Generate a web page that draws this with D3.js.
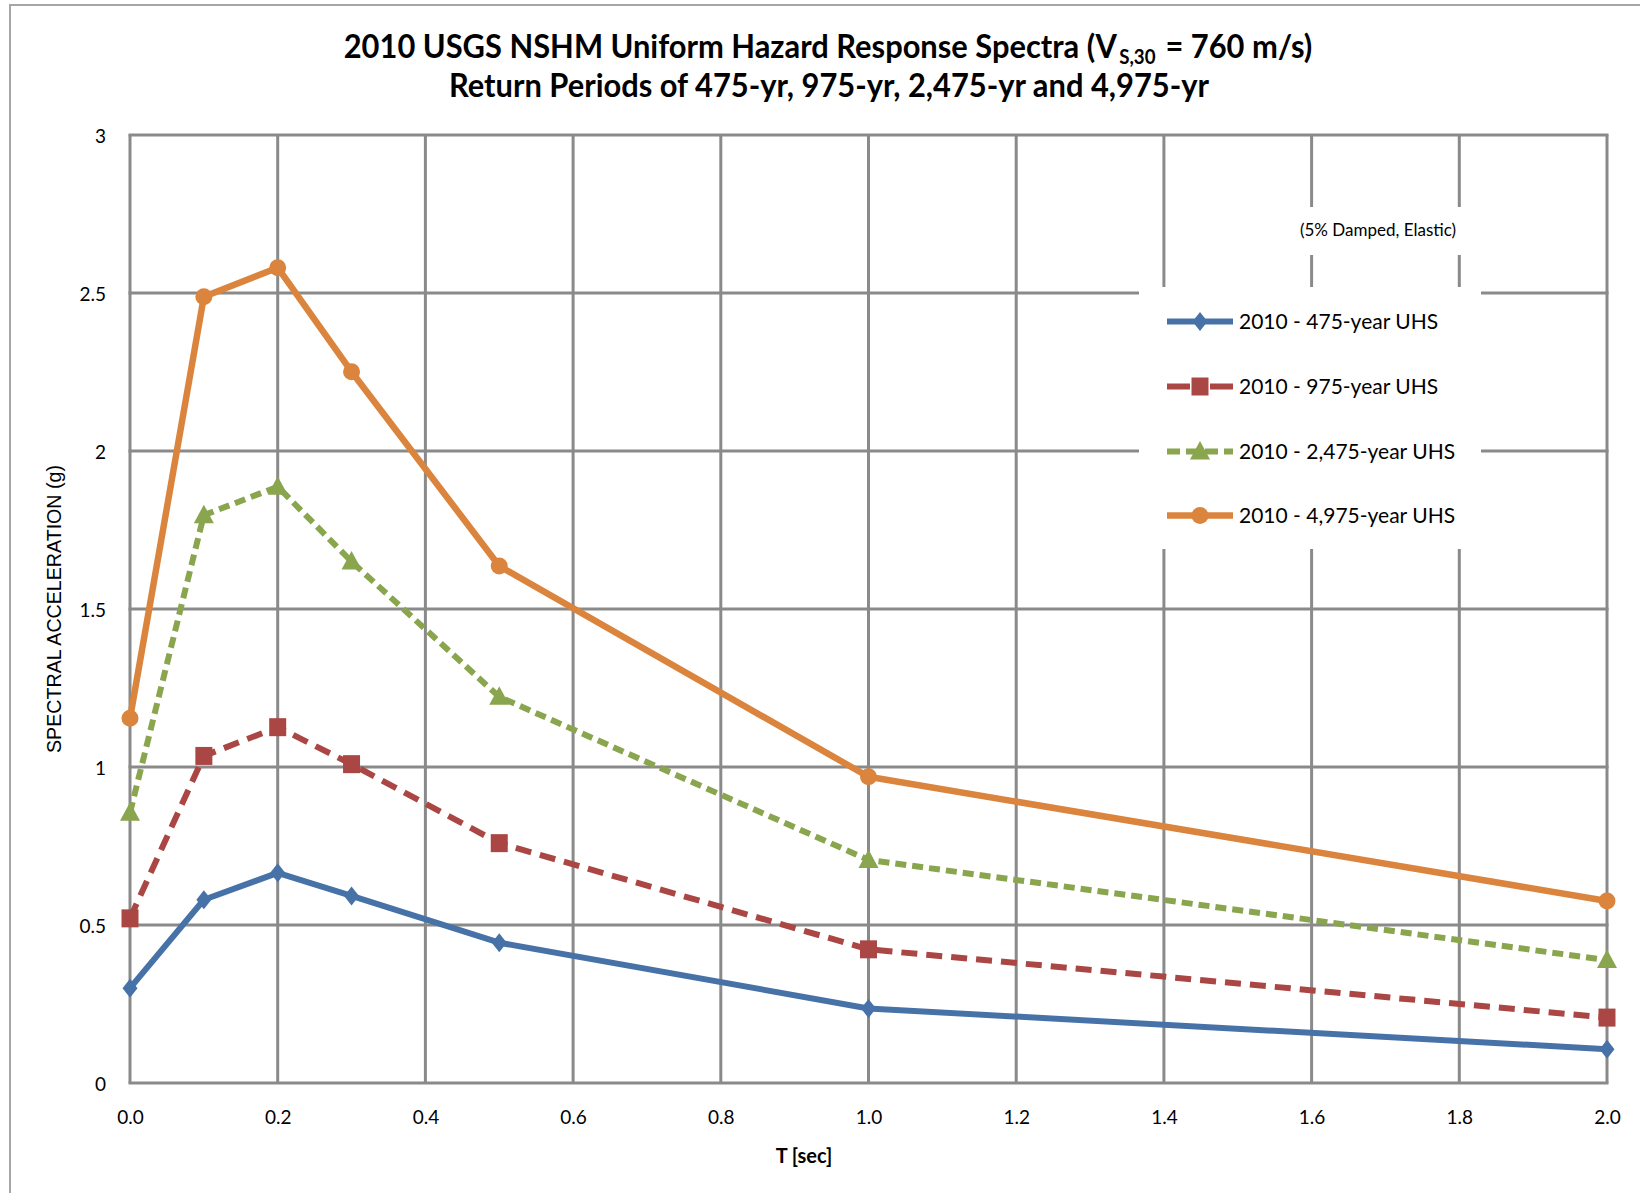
<!DOCTYPE html>
<html>
<head>
<meta charset="utf-8">
<script src="https://cdn.jsdelivr.net/npm/d3@7"></script>
<style>
  html, body { margin: 0; padding: 0; background: #ffffff; }
  svg { display: block; }
  text { white-space: pre; }
</style>
</head>
<body>
<svg id="chart" width="1640" height="1193"></svg>
<script>
// ---------- data ----------
const periods = [0.0, 0.1, 0.2, 0.3, 0.5, 1.0, 2.0];
const uhs475  = [0.300, 0.580, 0.665, 0.592, 0.444, 0.236, 0.107];
const uhs975  = [0.521, 1.035, 1.126, 1.009, 0.759, 0.423, 0.207];
const uhs2475 = [0.855, 1.797, 1.887, 1.650, 1.222, 0.706, 0.389];
const uhs4975 = [1.154, 2.488, 2.580, 2.251, 1.636, 0.969, 0.576];
const seriesNames = ["2010 - 475-year UHS", "2010 - 975-year UHS", "2010 - 2,475-year UHS", "2010 - 4,975-year UHS"];
const xTickValues = [0.0, 0.2, 0.4, 0.6, 0.8, 1.0, 1.2, 1.4, 1.6, 1.8, 2.0];
const yTickValues = [0, 0.5, 1, 1.5, 2, 2.5, 3];
const titleLine1a = "2010 USGS NSHM Uniform Hazard Response Spectra (V";
const titleSub = "S,30";
const titleLine1b = "\u00A0= 760 m/s)";
const titleLine2 = "Return Periods of 475-yr, 975-yr, 2,475-yr and 4,975-yr";
const xTitle = "T [sec]";
const yTitle = "SPECTRAL ACCELERATION (g)";
const noteText = "(5% Damped, Elastic)";

// ---------- styles ----------
const seriesValues = [uhs475, uhs975, uhs2475, uhs4975];
const colors = ["#4672A8", "#AA4643", "#89A54E", "#DB843D"];
const dashes = [null, "16,9", "11,6", null];
const legendDashes = [null, "23,20,23", "13,6", null];
const widths = [6, 6, 6, 6.5];
const markers = ["diamond", "square", "triangle", "circle"];
const FONT = "Lato, Carlito, 'Open Sans', sans-serif";
const GRID = "#8a8a8a";

const svg = d3.select("#chart");
const plot = { left: 130, right: 1607, top: 135, bottom: 1083 };

// outer frame
svg.append("rect").attr("x", 10).attr("y", 5).attr("width", 1700).attr("height", 1300)
  .attr("fill", "#fff").attr("stroke", "#a6a6a6").attr("stroke-width", 2);

const x = d3.scaleLinear().domain([0, 2]).range([plot.left, plot.right]);
const y = d3.scaleLinear().domain([0, 3]).range([plot.bottom, plot.top]);

// grid
const g = svg.append("g");
g.selectAll("line.vg").data(xTickValues).join("line")
  .attr("x1", d => x(d)).attr("x2", d => x(d))
  .attr("y1", plot.top).attr("y2", plot.bottom)
  .attr("stroke", GRID).attr("stroke-width", 3);
g.selectAll("line.hg").data(yTickValues).join("line")
  .attr("x1", plot.left - 1.5).attr("x2", plot.right + 1.5)
  .attr("y1", d => y(d)).attr("y2", d => y(d))
  .attr("stroke", GRID).attr("stroke-width", 3);

// axes labels via d3 axes (no domain/tick lines)
const xAxis = d3.axisBottom(x).tickValues(xTickValues).tickFormat(d3.format(".1f")).tickSize(0).tickPadding(28);
const yAxis = d3.axisLeft(y).tickValues(yTickValues).tickFormat(d3.format("")).tickSize(0).tickPadding(24);
const gx = svg.append("g").attr("transform", `translate(0,${plot.bottom})`).call(xAxis);
const gy = svg.append("g").attr("transform", `translate(${plot.left},0)`).call(yAxis);
[gx, gy].forEach(a => {
  a.select(".domain").remove();
  a.selectAll("text").attr("font-family", FONT).attr("font-size", 19).attr("fill", "#000");
});
gy.selectAll("text").attr("dy", "0.38em");

// white boxes (legend + note) hiding gridlines
svg.append("rect").attr("x", 1139).attr("y", 287).attr("width", 342).attr("height", 262).attr("fill", "#fff");
svg.append("rect").attr("x", 1284).attr("y", 207).attr("width", 190).attr("height", 48).attr("fill", "#fff");

// series lines
const line = d3.line().x(d => x(d[0])).y(d => y(d[1]));
function markerPath(type, cx, cy) {
  if (type === "diamond") return `M${cx},${cy-9.5}L${cx+7.5},${cy}L${cx},${cy+9.5}L${cx-7.5},${cy}Z`;
  if (type === "square") return `M${cx-8.5},${cy-9}H${cx+8.5}V${cy+9}H${cx-8.5}Z`;
  if (type === "triangle") return `M${cx},${cy-10.5}L${cx+10},${cy+8}L${cx-10},${cy+8}Z`;
  return `M${cx-8.5},${cy}A8.5,8.5 0 1,0 ${cx+8.5},${cy}A8.5,8.5 0 1,0 ${cx-8.5},${cy}Z`;
}
seriesValues.forEach((vals, i) => {
  const pts = periods.map((p, j) => [p, vals[j]]);
  svg.append("path").attr("d", line(pts)).attr("fill", "none")
    .attr("stroke", colors[i]).attr("stroke-width", widths[i])
    .attr("stroke-dasharray", dashes[i]).attr("stroke-linejoin", "round")
    .attr("stroke-linecap", dashes[i] ? "butt" : "round");
  svg.append("g").selectAll("path").data(pts).join("path")
    .attr("d", d => markerPath(markers[i], x(d[0]), y(d[1])))
    .attr("fill", colors[i]);
});

// legend
const legY = [321.5, 386.5, 451.5, 515.5];
seriesNames.forEach((name, i) => {
  const ly = legY[i];
  svg.append("line").attr("x1", 1167).attr("x2", 1233).attr("y1", ly).attr("y2", ly)
    .attr("stroke", colors[i]).attr("stroke-width", widths[i])
    .attr("stroke-dasharray", legendDashes[i]);
  svg.append("path").attr("d", markerPath(markers[i], 1200, ly)).attr("fill", colors[i]);
  svg.append("text").attr("x", 1239).attr("y", ly).attr("dy", "0.36em")
    .attr("font-family", FONT).attr("font-size", 21).attr("fill", "#000").text(name);
});

// note
svg.append("text").attr("x", 1378).attr("y", 230).attr("dy", "0.36em").attr("text-anchor", "middle")
  .attr("font-family", FONT).attr("font-size", 17).attr("fill", "#000").text(noteText);

// titles (line 1 built from three separate texts so subscript does not overlap)
const tg = svg.append("g").attr("transform", "translate(828,0) scale(0.935,1)");
function addTitleText(parent, txt, size, yy) {
  return parent.append("text").attr("y", yy)
    .attr("font-family", FONT).attr("font-weight", "bold").attr("font-size", size)
    .attr("fill", "#000").text(txt);
}
const pa = addTitleText(tg, titleLine1a, 33, 58);
const ps = addTitleText(tg, titleSub, 20, 64);
const pb = addTitleText(tg, titleLine1b, 33, 58);
const wa = pa.node().getComputedTextLength();
const ws = ps.node().getComputedTextLength();
const wb = pb.node().getComputedTextLength();
const gap = 2.5;
const total = wa + ws + wb + 2 * gap;
pa.attr("x", -total / 2);
ps.attr("x", -total / 2 + wa + gap);
pb.attr("x", -total / 2 + wa + ws + 2 * gap);
addTitleText(tg, titleLine2, 33, 97).attr("x", 1).attr("text-anchor", "middle");

svg.append("text").attr("x", 804).attr("y", 1163).attr("text-anchor", "middle")
  .attr("font-family", FONT).attr("font-weight", "bold").attr("font-size", 20).attr("fill", "#000")
  .text(xTitle);

svg.append("text").attr("transform", "translate(61,609) rotate(-90)").attr("text-anchor", "middle")
  .attr("font-family", "'Liberation Sans Narrow', 'Liberation Sans', Arial, sans-serif")
  .attr("font-size", 20).attr("textLength", 288).attr("lengthAdjust", "spacingAndGlyphs")
  .attr("fill", "#000").text(yTitle);
</script>
</body>
</html>
